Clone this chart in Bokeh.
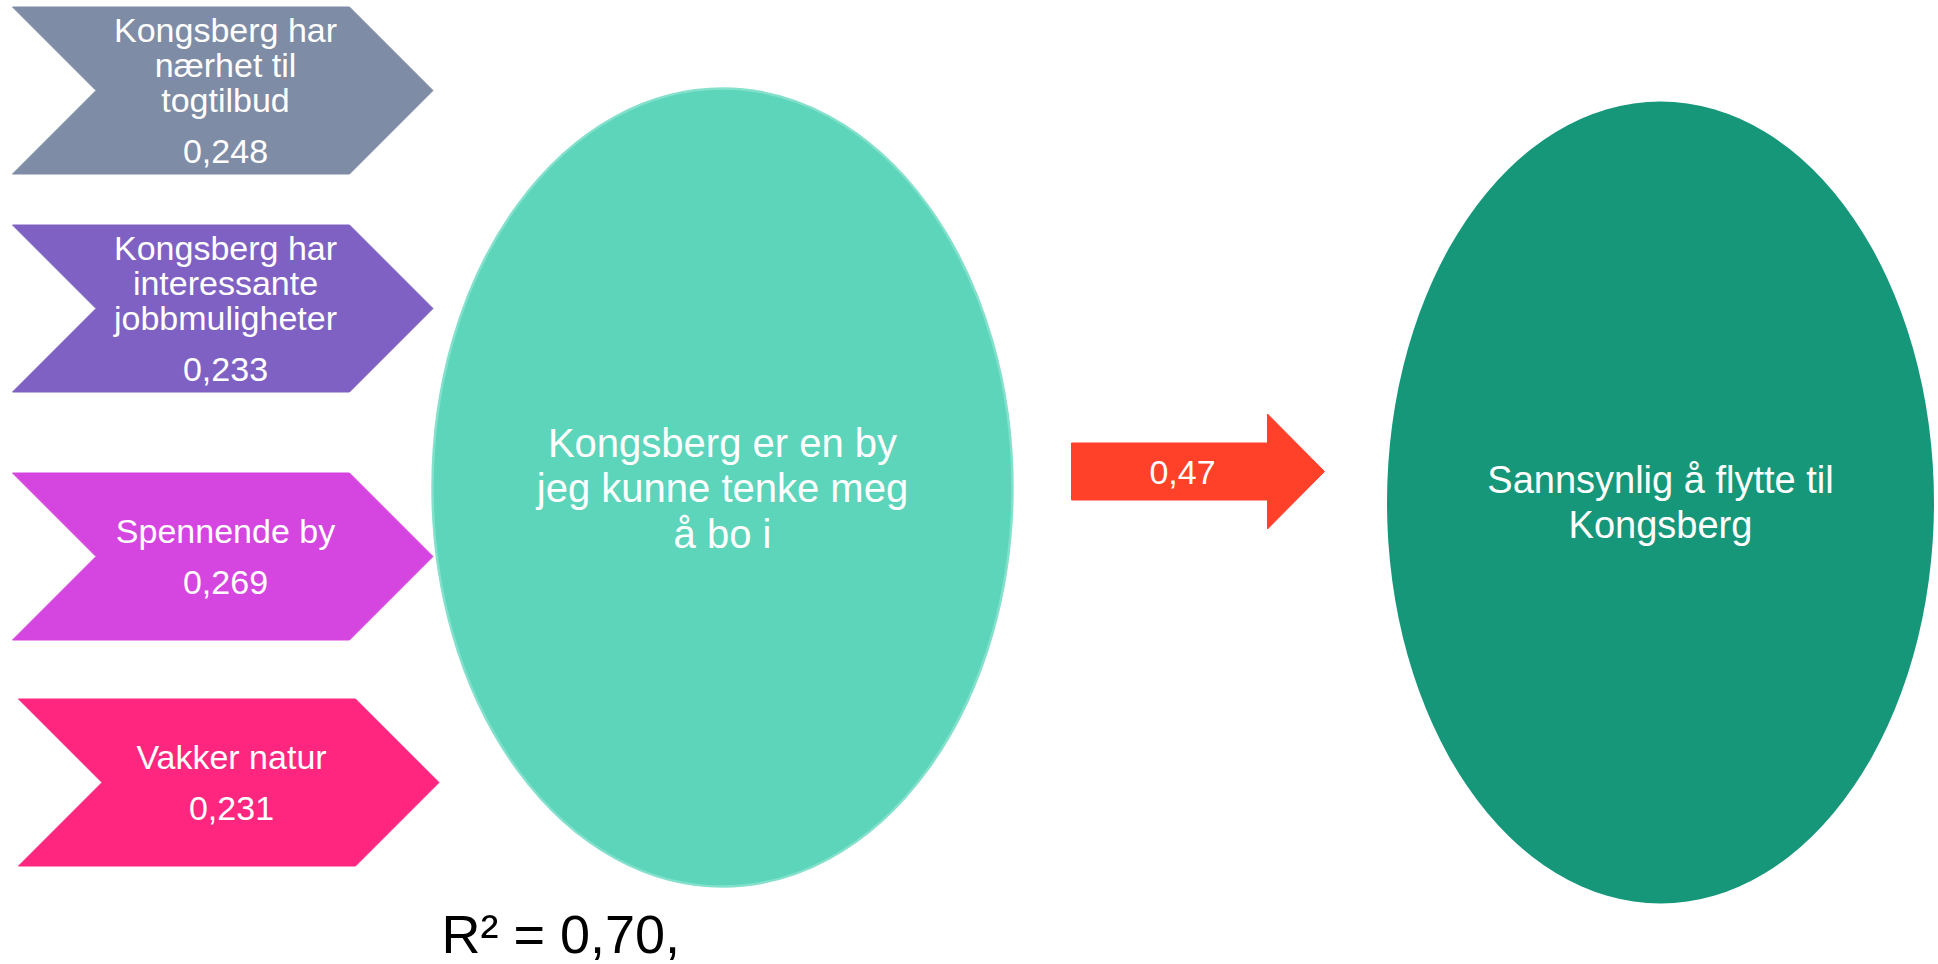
from bokeh.plotting import figure
from bokeh.models import Range1d
from bokeh.core.properties import value
from bokeh.embed import file_html
from bokeh.resources import INLINE

# ---------------- data ----------------
predictor_labels = [
    "Kongsberg har\nnærhet til\ntogtilbud",
    "Kongsberg har\ninteressante\njobbmuligheter",
    "Spennende by",
    "Vakker natur",
]
predictor_coefs = [0.248, 0.233, 0.269, 0.231]
predictor_colors = ["#7F8CA5", "#7F61C3", "#D545E0", "#FF2680"]

mediator_label = "Kongsberg er en by\njeg kunne tenke meg\nå bo i"
outcome_label = "Sannsynlig å flytte til\nKongsberg"
path_coef = 0.47
r_squared = 0.70


def fmt(v, d):
    return f"{v:.{d}f}".replace(".", ",")


FONT = value("Liberation Sans")

# ---------------- layout ----------------
W, H = 1938, 964
p = figure(width=W, height=H, x_range=Range1d(0, W), y_range=Range1d(H, 0),
           output_backend="svg", toolbar_location=None, min_border=0)
p.axis.visible = False
p.grid.visible = False
p.outline_line_color = None
p.background_fill_color = "white"
p.border_fill_color = "white"

# chevrons
chev_left = [12, 12, 12, 18]
chev_mid = [90, 308, 556, 782]
chev_body = 337
chev_half = 83.5

xs, ys = [], []
for lx, my in zip(chev_left, chev_mid):
    rx = lx + chev_body
    xs.append([lx, rx, rx + chev_half, rx, lx, lx + chev_half])
    ys.append([my - chev_half, my - chev_half, my, my + chev_half, my + chev_half, my])
p.patches(xs, ys, fill_color=predictor_colors, line_color=predictor_colors, line_width=1)

# chevron texts
tx, ty, tt = [], [], []
for lab, coef, lx, my in zip(predictor_labels, predictor_coefs, chev_left, chev_mid):
    lines = lab.split("\n")
    span = (len(lines) - 1) * 35 + 51
    y0 = my - span / 2
    cx = lx + 213
    for i, ln in enumerate(lines):
        tx.append(cx); ty.append(y0 + i * 35); tt.append(ln)
    tx.append(cx); ty.append(y0 + (len(lines) - 1) * 35 + 51); tt.append(fmt(coef, 3))
p.text(tx, ty, text=tt, text_color="white", text_font=FONT, text_font_size="34px",
       text_align="center", text_baseline="middle")

# mediator ellipse
med_x, med_y, med_w, med_h = 722, 487, 580, 798
p.ellipse([med_x], [med_y], width=med_w, height=med_h, fill_color="#5DD5BA",
          line_color="#82E0CB", line_width=2.5)
mlines = mediator_label.split("\n")
p.text([med_x] * len(mlines), [442 + 45.5 * i for i in range(len(mlines))], text=mlines,
       text_color="white", text_font=FONT, text_font_size="40px",
       text_align="center", text_baseline="middle")

# outcome ellipse
out_x, out_y, out_w, out_h = 1660, 502, 547, 802
p.ellipse([out_x], [out_y], width=out_w, height=out_h, fill_color="#16977A", line_color=None)
olines = outcome_label.split("\n")
p.text([out_x] * len(olines), [479 + 45 * i for i in range(len(olines))], text=olines,
       text_color="white", text_font=FONT, text_font_size="38px",
       text_align="center", text_baseline="middle")

# block arrow
ax0, ax1, apt = 1071, 1267, 1324
amid, shaft_h, head_h = 471, 57, 115
p.patch([ax0, ax1, ax1, apt, ax1, ax1, ax0],
        [amid - shaft_h / 2, amid - shaft_h / 2, amid - head_h / 2, amid,
         amid + head_h / 2, amid + shaft_h / 2, amid + shaft_h / 2],
        fill_color="#FF412A", line_color="#FF412A")
p.text([1182], [472], text=[fmt(path_coef, 2)], text_color="white", text_font=FONT,
       text_font_size="34px", text_align="center", text_baseline="middle")

# R squared
p.text([441], [933], text=["R² = " + fmt(r_squared, 2) + ","], text_color="black",
       text_font=FONT, text_font_size="54px", text_align="left", text_baseline="middle")

open("out.html", "w").write(file_html(p, INLINE))
